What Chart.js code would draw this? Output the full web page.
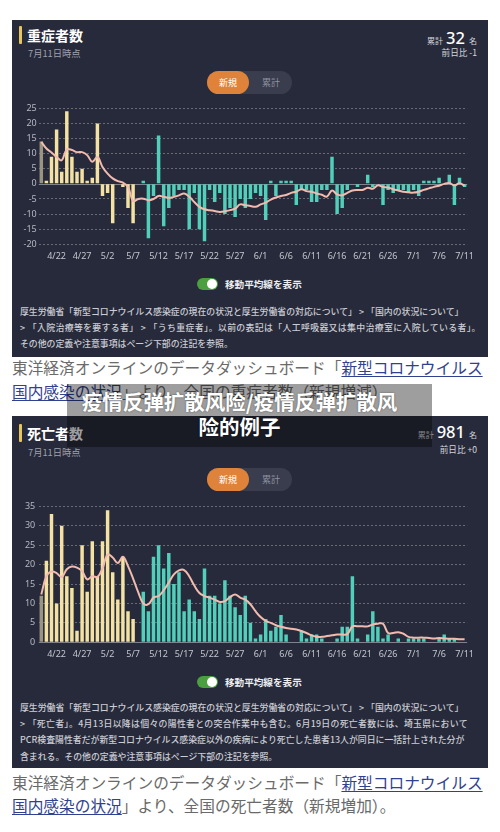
<!DOCTYPE html>
<html>
<head>
<meta charset="utf-8">
<script src="https://cdn.jsdelivr.net/npm/chart.js@4/dist/chart.umd.min.js"></script>
<style>
html,body{margin:0;padding:0;background:#fff;width:500px;height:832px;overflow:hidden;font-family:"Noto Sans CJK JP","Noto Sans",sans-serif;}
.panel{position:absolute;left:12px;width:476px;background:#272a3a;}
.panel > *{position:absolute;white-space:nowrap;}
.accent{left:7px;width:3px;height:18px;background:#e6c65c;border-radius:1px;}
.title{left:15px;font-size:14px;font-weight:bold;color:#fff;line-height:20px;}
.asof{left:16px;font-size:9.3px;color:#9fa1ad;line-height:12px;}
.total{right:11px;display:flex;align-items:baseline;color:#fff;line-height:22px;}
.total .s{font-size:8px;color:#d4d5dc;}
.total .big{font-family:"Noto Sans",sans-serif;font-size:16.5px;font-weight:500;margin:0 4px 0 3px;}
.diff{right:11px;font-size:8.6px;color:#d4d5dc;line-height:12px;}
.pill{left:195px;width:85px;height:23px;border-radius:12px;background:#3a3d4e;}
.pill .on{position:absolute;left:0;top:0;width:42px;height:23px;border-radius:12px;background:#df833a;color:#fff;font-size:9px;line-height:23px;text-align:center;}
.pill .off{position:absolute;left:44px;top:0;width:40px;height:23px;color:#8f92a0;font-size:9px;line-height:23px;text-align:center;}
canvas{position:absolute;left:0;}
.sw{left:185px;width:21px;height:12px;border-radius:6px;background:#4b9f40;}
.sw .knob{position:absolute;right:1px;top:1px;width:10px;height:10px;border-radius:5px;background:#fff;}
.swlabel{left:213px;font-size:9.6px;font-weight:bold;color:#eceef2;line-height:14px;}
.note{left:8px;font-size:8.9px;color:#cbcdd5;line-height:16.3px;font-weight:500;}
.src{position:absolute;left:12px;font-size:15.7px;color:#6a6a6a;white-space:nowrap;}
.src a{color:#31418f;text-decoration:underline;text-decoration-thickness:1px;text-underline-offset:2px;}
.overlay{position:absolute;left:67px;top:384px;width:365px;height:63px;background:rgba(0,0,0,0.38);}
.overlay div{position:absolute;left:0;top:5px;width:345px;text-align:center;color:#fff;font-family:"Noto Sans CJK SC",sans-serif;font-weight:bold;font-size:20.5px;line-height:25px;text-shadow:0 0 2px rgba(0,0,0,0.45);}
</style>
</head>
<body>

<div class="panel" style="top:20px;height:337px">
  <div class="accent" style="top:6px"></div>
  <div class="title" style="top:5px">重症者数</div>
  <div class="asof" style="top:27px">7月11日時点</div>
  <div class="total" style="top:7px"><span class="s">累計</span><span class="big">32</span><span class="s">名</span></div>
  <div class="diff" style="top:26px">前日比 -1</div>
  <div class="pill" style="top:51px"><div class="on">新規</div><div class="off">累計</div></div>
  <canvas id="c1" width="476" height="166" style="top:80px"></canvas>
  <div class="sw" style="top:258px"><div class="knob"></div></div>
  <div class="swlabel" style="top:257px">移動平均線を表示</div>
  <div class="note" style="top:283.6px">厚生労働省「新型コロナウイルス感染症の現在の状況と厚生労働省の対応について」 > 「国内の状況について」<br><span style="letter-spacing:0.35px">> 「入院治療等を要する者」 > 「うち重症者」。以前の表記は「人工呼吸器又は集中治療室に入院している者」。</span><br>その他の定義や注意事項はページ下部の注記を参照。</div>
</div>

<div class="src" style="top:356px;line-height:24px">東洋経済オンラインのデータダッシュボード「<a>新型コロナウイルス</a><br><a>国内感染の状況</a>」より、全国の重症者数（新規増減）</div>

<div class="panel" style="top:416px;height:352px">
  <div class="accent" style="top:8px"></div>
  <div class="title" style="top:7px">死亡者数</div>
  <div class="asof" style="top:30px">7月11日時点</div>
  <div class="total" style="top:5px"><span class="s">累計</span><span class="big">981</span><span class="s">名</span></div>
  <div class="diff" style="top:27px">前日比 +0</div>
  <div class="pill" style="top:51.5px"><div class="on">新規</div><div class="off">累計</div></div>
  <canvas id="c2" width="476" height="166" style="top:82px"></canvas>
  <div class="sw" style="top:260px"><div class="knob"></div></div>
  <div class="swlabel" style="top:259px">移動平均線を表示</div>
  <div class="note" style="top:283.9px">厚生労働省「新型コロナウイルス感染症の現在の状況と厚生労働省の対応について」 > 「国内の状況について」<br><span style="letter-spacing:0.3px">> 「死亡者」。4月13日以降は個々の陽性者との突合作業中も含む。6月19日の死亡者数には、埼玉県において</span><br>PCR検査陽性者だが新型コロナウイルス感染症以外の疾病により死亡した患者13人が同日に一括計上された分が<br>含まれる。その他の定義や注意事項はページ下部の注記を参照。</div>
</div>

<div class="src" style="top:770.5px;line-height:23px">東洋経済オンラインのデータダッシュボード「<a>新型コロナウイルス</a><br><a>国内感染の状況</a>」より、全国の死亡者数（新規増加）。</div>

<div class="overlay"><div>疫情反弹扩散风险/疫情反弹扩散风<br>险的例子</div></div>

<script>
// ---- data ----
const dates = [
  '4/19','4/20','4/21','4/22','4/23','4/24','4/25','4/26','4/27','4/28','4/29','4/30',
  '5/1','5/2','5/3','5/4','5/5','5/6','5/7','5/8','5/9','5/10','5/11','5/12','5/13','5/14','5/15','5/16','5/17','5/18','5/19','5/20','5/21','5/22','5/23','5/24','5/25','5/26','5/27','5/28','5/29','5/30','5/31',
  '6/1','6/2','6/3','6/4','6/5','6/6','6/7','6/8','6/9','6/10','6/11','6/12','6/13','6/14','6/15','6/16','6/17','6/18','6/19','6/20','6/21','6/22','6/23','6/24','6/25','6/26','6/27','6/28','6/29','6/30',
  '7/1','7/2','7/3','7/4','7/5','7/6','7/7','7/8','7/9','7/10','7/11'
];
const shownTicks = ['4/22','4/27','5/2','5/7','5/12','5/17','5/22','5/27','6/1','6/6','6/11','6/16','6/21','6/26','7/1','7/6','7/11'];
const tealFrom = '5/8';

const severeNew = [
  14, 1, 9, 18, 4, 24, 9, 4, 5, 1, 2, 20,
  -4, -3, -13, 0, -1, -8, -13, 0, 1, -18, -4, 16, -14, -8, -4, -2, -2, -15, -3, -15, -19, -2, -6, -3, -10, -8, -11, -5, -8, -5, -3,
  -4, -12, 1, -4, 1, 1, 1, -7, -2, -2, -6, -6, -2, -2, 9, -10, -8, -2, 0, -1, 0, 3, -1, 0, -7, -2, -3, -2, -2, -3,
  -2, -4, 1, 1, 1, 2, 0, 3, -7, 2, -1
];
const severeAvg = [
  13.9, 11.7, 10.4, 8.9, 7.8, 11.4, 11.2, 10.5, 10.5, 9.5, 7.3, 8.9,
  5.6, 3.4, 1.8, 0.9, 0.4, -1, -5.7, -5, -4.9, -5.4, -5, -4, -4.3, -4.6, -4.3, -3.8, -3.2, -4.3, -6, -7.6, -8.4, -8.7, -9, -9.3, -9.1, -8.7, -8.2, -6.8, -7.1, -7.3, -7.6,
  -6.8, -6.2, -5.2, -4.5, -4, -3.7, -3, -2.6, -1.8, -2.4, -2.6, -3.2, -3.6, -4.2, -2.2, -3.5, -3.8, -3, -2.2, -2, -2, -1.3, -1.6, -0.5, -1, -1.2, -1.8, -2.2, -2.6, -2.8,
  -2.9, -2.6, -2, -1.5, -1, -0.6, 0, 0.3, -0.5, 0.2, -0.6
];
const deathsNew = [
  12, 21, 33, 10, 30, 17, 14, 3, 25, 13, 26, 17,
  26, 34, 18, 11, 22, 8, 6, 0, 13, 8, 22, 25, 19, 23, 15, 18, 8, 11, 8, 6, 19, 12, 12, 10, 16, 12, 9, 7, 12, 5, 1,
  2, 6, 3, 4, 7, 2, 0, 0, 3, 1, 2, 2, 1, 0, 0, 1, 4, 4, 17, 1, 0, 2, 8, 4, 1, 2, 0, 1, 0, 1,
  1, 1, 1, 0, 0, 1, 2, 1, 1, 0, 0
];
const deathsAvg = [
  12.3, 17, 18.2, 17.8, 16.8, 18.8, 19.5, 19.2, 18.3, 16.2, 17, 16.8,
  19, 22.6, 21.8, 20.4, 22, 19.6, 16.4, 12.9, 10, 9.8, 11.5, 11.9, 13.4, 15.4, 17.5, 18.5, 18.6, 17, 14.6, 12.7, 11.9, 11.5, 11, 10.4, 10.6, 11.6, 12.3, 11.5, 11, 9.8, 8,
  6.5, 5.5, 5, 4.4, 4, 3.7, 3.5, 3.3, 2.9, 2.4, 1.8, 1.4, 1.4, 1.6, 1.8, 2, 2, 2.1, 4.1, 4.1, 4.1, 4.1, 4.6, 4.8, 4.8, 2.4, 2.4, 2.6, 2.2, 1.4,
  1.2, 1.2, 1.2, 1.1, 1, 1.1, 1, 0.9, 0.9, 0.8, 0.8
];

// ---- drawing ----
Chart.defaults.font.family = '"Noto Sans", sans-serif';
const tealStart = dates.indexOf(tealFrom);
function barColor(ctx) {
  const i = ctx.dataIndex;
  if (i === 0) return '#9a9580';
  return i < tealStart ? '#f3e2a3' : '#52cfbb';
}
const zeroLine = {
  id: 'zeroLine',
  beforeDatasetsDraw(chart) {
    const {ctx, chartArea, scales} = chart;
    const py = Math.round(scales.y.getPixelForValue(0)) + 0.5;
    ctx.save();
    ctx.strokeStyle = 'rgba(255,255,255,0.42)';
    ctx.lineWidth = 1;
    ctx.beginPath();
    ctx.moveTo(chartArea.left, py);
    ctx.lineTo(chartArea.right, py);
    ctx.stroke();
    ctx.restore();
  }
};
function makeChart(id, values, avg, yMin, yMax, labelPad) {
  return new Chart(document.getElementById(id), {
    type: 'bar',
    data: {
      labels: dates,
      datasets: [
        { type: 'line', data: avg, borderColor: '#f2bbb0', borderWidth: 2, pointRadius: 0, tension: 0.4, order: 0 },
        { type: 'bar', data: values, backgroundColor: barColor, barPercentage: 0.68, categoryPercentage: 1, order: 1 }
      ]
    },
    options: {
      responsive: false,
      animation: false,
      layout: { padding: { top: 8.3, left: 0, right: 20.85, bottom: 0 } },
      plugins: { legend: { display: false }, tooltip: { enabled: false } },
      scales: {
        x: {
          grid: { display: false, drawTicks: false },
          border: { display: false },
          ticks: {
            autoSkip: false, maxRotation: 0, minRotation: 0, padding: 7,
            color: '#c3c5cf', font: { size: 9 },
            callback: function (v, i) { return shownTicks.includes(dates[i]) ? dates[i] : ''; }
          },
          afterFit: function (s) { s.height = 21.7; s.paddingLeft = 0; s.paddingRight = 0; }
        },
        y: {
          min: yMin, max: yMax,
          ticks: { stepSize: 5, padding: labelPad, color: '#b5b8c4', font: { size: 9 } },
          grid: { drawTicks: false, color: function (c) { return c.tick && c.tick.value === 0 ? 'rgba(0,0,0,0)' : 'rgba(255,255,255,0.30)'; } },
          border: { display: false, dash: [2, 2] },
          afterFit: function (s) { s.width = 26.75; s.paddingTop = 0; s.paddingBottom = 0; }
        }
      }
    },
    plugins: [zeroLine]
  });
}
makeChart('c1', severeNew, severeAvg, -20, 25, 2);
makeChart('c2', deathsNew, deathsAvg, 0, 35, 3.5);
</script>
</body>
</html>
